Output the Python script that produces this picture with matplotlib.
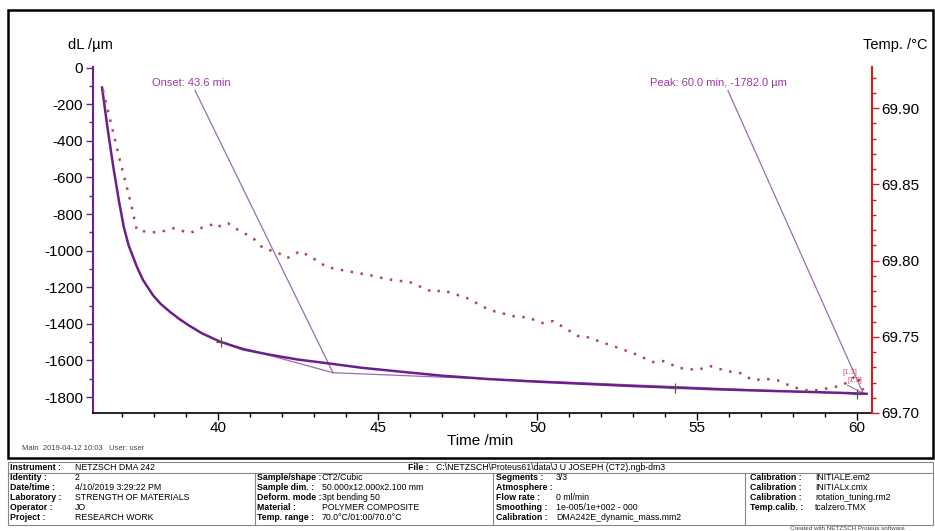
import numpy as np
import matplotlib.pyplot as plt
from matplotlib.ticker import MultipleLocator
from matplotlib.patches import Rectangle

plt.rcParams['font.family'] = ['Liberation Sans', 'DejaVu Sans']
plt.rcParams['axes.unicode_minus'] = False

# ______________ data ______________
time_dl = [36.37, 36.55, 36.72, 36.9, 37.05, 37.2, 37.46, 37.65, 37.97, 38.2,
           38.5, 38.8, 39.1, 39.5, 40.06, 40.8, 41.6, 42.5, 43.5, 44.5,
           45.7, 47.0, 48.5, 50.0, 51.5, 53.0, 54.37, 55.5, 57.0, 58.5,
           59.5, 60.3]
dl = [-109, -340, -540, -730, -870, -970, -1088, -1160, -1245, -1290,
      -1335, -1375, -1410, -1452, -1497, -1540, -1568, -1595, -1617, -1640,
      -1661, -1683, -1702, -1716, -1728, -1740, -1749, -1757, -1765, -1772,
      -1777, -1782]

time_temp = [36.40, 36.93, 37.25, 37.46, 37.87, 38.18, 38.59, 39.12, 39.53, 39.97,
             40.06, 40.31, 40.59, 41.10, 41.41, 41.85, 42.16, 42.57, 42.97, 43.41,
             44.04, 44.76, 45.29, 46.01, 46.73, 47.04, 47.79, 48.51, 49.36, 49.67,
             50.17, 50.49, 50.80, 51.33, 51.55, 52.27, 52.99, 53.62, 53.93, 54.46,
             54.99, 55.40, 55.93, 56.34, 56.74, 57.18, 57.50, 58.00, 58.53, 59.16,
             59.56, 59.78, 60.0, 60.2]
temp = [69.9117, 69.8658, 69.8396, 69.8199, 69.8186, 69.8186, 69.8212, 69.8180, 69.8219, 69.8245,
        69.8225, 69.8245, 69.8206, 69.8147, 69.8081, 69.8055, 69.8016, 69.8062, 69.8016, 69.7957,
        69.7931, 69.7904, 69.7878, 69.7858, 69.7793, 69.7806, 69.7754, 69.7675, 69.7629, 69.7629,
        69.7590, 69.7603, 69.7564, 69.7498, 69.7498, 69.7446, 69.7393, 69.7334, 69.7341, 69.7295,
        69.7282, 69.7308, 69.7275, 69.7262, 69.7216, 69.7223, 69.7216, 69.7170, 69.7144, 69.7164,
        69.7183, 69.7216, 69.7249, 69.7150]

# onset construction: tangent, baseline
tangent_t = [40.1, 43.6]
tangent_dl = [-1500, -1667]
base_t = [43.6, 60.3]
base_dl = [-1667, -1785]
onset_t, onset_dl = 43.6, -1667
peak_t, peak_dl = 60.0, -1782
marks_t = [40.1, 54.3, 60.0]
marks_dl = [-1500, -1750, -1782]

info_left = [("Identity :", "2"), ("Date/time :", "4/10/2019 3:29:22 PM"),
             ("Laboratory :", "STRENGTH OF MATERIALS"), ("Operator :", "JO"),
             ("Project :", "RESEARCH WORK")]
info_sample = [("Sample/shape :", "CT2/Cubic"), ("Sample dim. :", "50.000x12.000x2.100 mm"),
               ("Deform. mode :", "3pt bending 50"), ("Material :", "POLYMER COMPOSITE"),
               ("Temp. range :", "70.0°C/01:00/70.0°C")]
info_run = [("Segments :", "3/3"), ("Atmosphere :", ""), ("Flow rate :", "0 ml/min"),
            ("Smoothing :", "1e-005/1e+002 - 000"), ("Calibration :", "DMA242E_dynamic_mass.mm2")]
info_calib = [("Calibration :", "INITIALE.em2"), ("Calibration :", "INITIALx.cmx"),
              ("Calibration :", "rotation_tuning.rm2"), ("Temp.calib. :", "tcalzero.TMX")]

# ______________ colours ______________
PURPLE = '#6c1f8c'
LIGHT = '#9a6db0'
RED = '#d41f1f'
DOTS = '#b34848'
TXT = '#9a3aa5'

W, H = 935, 531


def px(x, y):
    return x / W, 1 - y / H


fig = plt.figure(figsize=(W / 100, H / 100), dpi=100)
ax = fig.add_axes([93 / W, 1 - 413 / H, (872 - 93) / W, (413 - 67) / H])
ax2 = ax.twinx()

ax.plot(time_dl, dl, color=PURPLE, lw=1.8, zorder=3)
ax.plot(tangent_t, tangent_dl, color=LIGHT, lw=0.9)
ax.plot(base_t, base_dl, color=LIGHT, lw=0.9)
ax.plot([39.28, onset_t], [-125, onset_dl], color=LIGHT, lw=0.9)
ax.plot([55.96, 60.2], [-125, peak_dl], color=LIGHT, lw=0.9)
ax.plot([59.7, 60.25], [-1735, -1785], color=LIGHT, lw=0.8)
ax.plot(marks_t, marks_dl, ls='none', marker='+', ms=7, mew=0.9, color='#555555', zorder=4)

ax.text(37.93, -82, "Onset: 43.6 min", color=TXT, fontsize=8, va='center')
ax.text(53.52, -82, "Peak: 60.0 min, -1782.0 µm", color=TXT, fontsize=8, va='center')
ax.text(59.55, -1668, "[1.3]", color='#d0506a', fontsize=5.5, va='center')
ax.text(59.7, -1712, "[1.3]", color='#d0506a', fontsize=5.5, va='center')

ax2.plot(time_temp, temp, color=DOTS, lw=1.8, dashes=(1, 3))

ax.set_xlim(36.087, 60.47)
ax.set_ylim(-1887, 3)
ax2.set_ylim(69.70, 69.927)

ax.xaxis.set_major_locator(MultipleLocator(5))
ax.xaxis.set_minor_locator(MultipleLocator(1))
ax.yaxis.set_major_locator(MultipleLocator(200))
ax.yaxis.set_minor_locator(MultipleLocator(100))
ax2.yaxis.set_major_locator(MultipleLocator(0.05))
ax2.yaxis.set_minor_locator(MultipleLocator(0.01))
ax2.yaxis.set_major_formatter(plt.FormatStrFormatter('%.2f'))

for a in (ax, ax2):
    a.spines['top'].set_visible(False)
ax2.spines['left'].set_visible(False)
ax2.spines['bottom'].set_visible(False)
ax.spines['right'].set_visible(False)
ax.spines['left'].set_color(PURPLE)
ax.spines['left'].set_linewidth(1.5)
ax2.spines['right'].set_color(RED)
ax2.spines['right'].set_linewidth(1.5)
ax.spines['bottom'].set_linewidth(1.2)

ax.tick_params(axis='y', which='major', length=5, width=1, color=PURPLE, labelsize=11, pad=2)
ax.tick_params(axis='y', which='minor', length=3, width=1, color=PURPLE)
ax.tick_params(axis='x', which='major', length=5, width=1, labelsize=11, pad=1)
ax.tick_params(axis='x', which='minor', length=3, width=1)
ax2.tick_params(axis='y', which='major', length=5, width=1, color=RED, labelsize=11, pad=2)
ax2.tick_params(axis='y', which='minor', length=3, width=1, color=RED)

fig.text(*px(90, 45), "dL /µm", fontsize=10.5, ha='center', va='center')
fig.text(*px(895, 45), "Temp. /°C", fontsize=10.5, ha='center', va='center')
fig.text(*px(480, 441), "Time /min", fontsize=11, ha='center', va='center')
fig.text(*px(22, 449), "Main  2019-04-12 10:03   User: user", fontsize=5.5,
         color='#444444', va='center')

# outer frame of the plot panel
fig.patches.append(Rectangle(px(8, 458), 925 / W, 448 / H, transform=fig.transFigure,
                             fill=False, ec='black', lw=1.8))

# ______________ info table ______________
G = '#888888'
fig.patches.append(Rectangle(px(8, 525), 925 / W, 63 / H, transform=fig.transFigure,
                             fill=False, ec=G, lw=0.8))
fig.lines.append(plt.Line2D([8 / W, 933 / W], [1 - 473 / H] * 2, transform=fig.transFigure,
                            color=G, lw=0.8))
for xv in (255, 493, 745):
    fig.lines.append(plt.Line2D([xv / W] * 2, [1 - 473 / H, 1 - 525 / H],
                                transform=fig.transFigure, color=G, lw=0.8))

fs = 6.3
fig.text(*px(10, 467.5), "Instrument :", fontsize=fs, weight='bold', va='center')
fig.text(*px(75, 467.5), "NETZSCH DMA 242", fontsize=fs, va='center')
fig.text(*px(408, 467.5), "File :", fontsize=fs, weight='bold', va='center')
fig.text(*px(436, 467.5), "C:\\NETZSCH\\Proteus61\\data\\J U JOSEPH (CT2).ngb-dm3",
         fontsize=fs, va='center')

rows_y = [478, 488, 498, 508, 518]
columns = [(info_left, 10, 75), (info_sample, 257, 322),
           (info_run, 496, 556), (info_calib, 750, 815)]
for items, xl, xv in columns:
    for (lab, val), yy in zip(items, rows_y):
        fig.text(*px(xl, yy), lab, fontsize=fs, weight='bold', va='center')
        fig.text(*px(xv, yy), val, fontsize=fs, va='center')

fig.text(*px(790, 528), "Created with NETZSCH Proteus software", fontsize=4.5,
         color='#444444', va='center')

plt.savefig('out.png', dpi=100)
